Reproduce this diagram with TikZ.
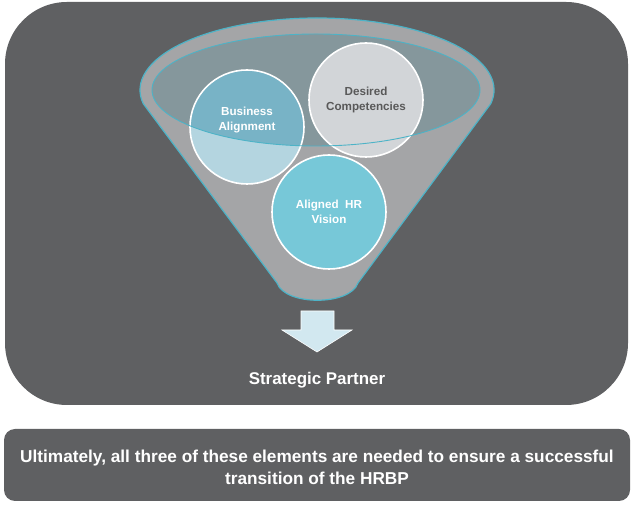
\documentclass[tikz,border=0pt]{standalone}
\usepackage{fontspec}
\setmainfont{Liberation Sans}
\usepackage{xcolor}
\usepackage{tikz}
\definecolor{boxgray}{HTML}{5F6062}
\definecolor{funnelgray}{HTML}{A4A5A7}
\definecolor{funnelrim}{HTML}{4DB3C7}
\definecolor{bowlfill}{HTML}{85979C}
\definecolor{busdark}{HTML}{78B3C6}
\definecolor{buslight}{HTML}{B4D5E0}
\definecolor{compgray}{HTML}{D2D5D8}
\definecolor{visionteal}{HTML}{77C8D8}
\definecolor{arrowblue}{HTML}{D2E8F0}
\definecolor{comptext}{HTML}{595959}
\begin{document}
\begin{tikzpicture}[x=1bp,y=1bp,
	circ/.style={circle,draw=white,line width=1.6bp,minimum size=114bp,inner sep=0pt},
	circtext/.style={align=center,text=white,font=\bfseries\fontsize{11.7}{14.5}\selectfont}]
	\useasboundingbox (0,0) rectangle (634,513);
	\fill[boxgray,rounded corners=62bp] (5,108) rectangle (628,511);
	\fill[boxgray,rounded corners=11bp] (4,12) rectangle (630,84);
	% funnel
	\filldraw[fill=funnelgray,draw=funnelrim,line width=1.2bp] (317,423) ++(-11:177 and 72) arc[start angle=-11,end angle=191,x radius=177,y radius=72] -- (277,230) .. controls (285,207) and (350,207) .. (358,230) -- cycle;
	\fill[bowlfill] (316,423) ellipse[x radius=164,y radius=56];
	% circles
	\node[circ,fill=compgray] (descomp) at (366,413) {};
	\node[circ,fill=buslight] (busalign) at (247,386) {};
	\begin{scope}
		\clip (busalign.center) circle[radius=56];
		\fill[busdark] (316,423) ellipse[x radius=164,y radius=56];
	\end{scope}
	\node[circ,fill=visionteal] (hrvision) at (329,301) {};
	\draw[funnelrim,line width=0.9bp] (316,423) ellipse[x radius=164,y radius=56];
	\node[circtext] (bustext) at ([yshift=7bp]busalign.center) {Business\\Alignment};
	\node[circtext,text=comptext] (comptxt) at (descomp.center) {Desired\\Competencies};
	\node[circtext] (visiontext) at (hrvision.center) {Aligned\ \ HR\\Vision};
	% arrow
	\filldraw[fill=arrowblue,draw=white,line width=0.6bp] (301,202) -- (334,202) -- (334,183) -- (352,183) -- (317,161) -- (282,183) -- (301,183) -- cycle;
	\node[text=white,font=\bfseries\fontsize{17}{20}\selectfont] (partner) at (317,133) {Strategic Partner};
	\node[text=white,align=center,font=\bfseries\fontsize{17.3}{22}\selectfont] (summary) at (317,46) {Ultimately, all three of these elements are needed to ensure a successful\\transition of the HRBP};
\end{tikzpicture}
\end{document}
